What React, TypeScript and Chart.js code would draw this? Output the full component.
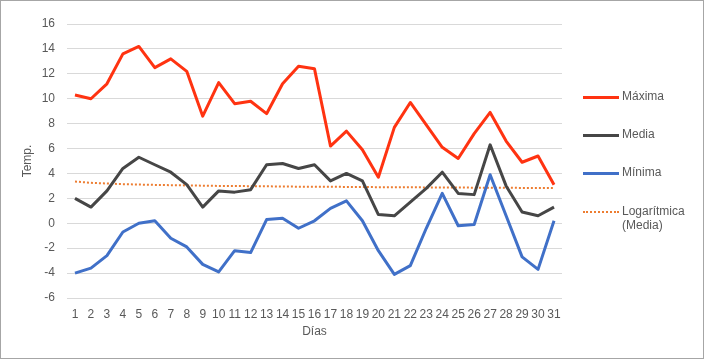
import React, { useEffect, useRef } from "react";
import { Chart, registerables } from "chart.js";

Chart.register(...registerables);

const days = Array.from({ length: 31 }, (_, i) => String(i + 1));
const maxima = [10.3, 10.0, 11.2, 13.6, 14.2, 12.5, 13.2, 12.2, 8.6, 11.3, 9.6, 9.8, 8.8, 11.2, 12.6, 12.4, 6.2, 7.4, 5.9, 3.7, 7.7, 9.7, 7.9, 6.1, 5.2, 7.2, 8.9, 6.6, 4.9, 5.4, 3.1];
const media = [2.0, 1.3, 2.6, 4.4, 5.3, 4.7, 4.1, 3.1, 1.3, 2.6, 2.5, 2.7, 4.7, 4.8, 4.4, 4.7, 3.4, 4.0, 3.4, 0.7, 0.6, 1.7, 2.8, 4.1, 2.4, 2.3, 6.3, 3.0, 0.9, 0.6, 1.3];
const minima = [-4.0, -3.6, -2.6, -0.7, 0.0, 0.2, -1.2, -1.9, -3.3, -3.9, -2.2, -2.35, 0.3, 0.4, -0.4, 0.2, 1.2, 1.8, 0.2, -2.2, -4.1, -3.4, -0.4, 2.4, -0.2, -0.1, 3.9, 0.6, -2.7, -3.7, 0.2];
const tendencia = [3.35, 3.25, 3.19, 3.14, 3.11, 3.08, 3.06, 3.04, 3.02, 3.0, 2.99, 2.98, 2.97, 2.95, 2.94, 2.93, 2.93, 2.92, 2.91, 2.9, 2.89, 2.89, 2.88, 2.87, 2.87, 2.86, 2.86, 2.85, 2.84, 2.84, 2.83];

const C_MAX = "#ff3311";
const C_MED = "#464646";
const C_MIN = "#4070c8";
const C_TREND = "#ed7d31";
const FONT = "'Liberation Sans', Arial, sans-serif";
const TXT = "#595959";

export default function App() {
  const ref = useRef<HTMLCanvasElement | null>(null);
  useEffect(() => {
    if (!ref.current) return;
    const chart = new Chart(ref.current, {
      type: "line",
      data: {
        labels: days,
        datasets: [
          { label: "Máxima", data: maxima, borderColor: C_MAX, borderWidth: 3, pointRadius: 0, tension: 0, borderJoinStyle: "round" },
          { label: "Media", data: media, borderColor: C_MED, borderWidth: 3, pointRadius: 0, tension: 0, borderJoinStyle: "round" },
          { label: "Mínima", data: minima, borderColor: C_MIN, borderWidth: 3, pointRadius: 0, tension: 0, borderJoinStyle: "round" },
          { label: "Logarítmica (Media)", data: tendencia, borderColor: C_TREND, borderWidth: 2, borderDash: [2, 2], pointRadius: 0, tension: 0 },
        ],
      },
      options: {
        responsive: false,
        animation: false,
        layout: { padding: { top: 24, right: 142, bottom: 0, left: 0 } },
        plugins: { legend: { display: false }, tooltip: { enabled: false } },
        scales: {
          x: {
            type: "category",
            offset: true,
            grid: { display: false, drawTicks: false },
            border: { display: false },
            ticks: { color: TXT, font: { family: FONT, size: 12 }, padding: 9, maxRotation: 0, autoSkip: false },
            title: { display: true, text: "Días", color: TXT, font: { family: FONT, size: 12 }, padding: { top: 0, bottom: 20 } },
            afterFit: (s: any) => { s.height = 61; },
          },
          y: {
            min: -6,
            max: 16,
            ticks: { stepSize: 2, color: TXT, font: { family: FONT, size: 12 }, padding: 12 },
            grid: { color: "#d9d9d9", lineWidth: 1, drawTicks: false },
            border: { display: false },
            title: { display: true, text: "Temp.", color: TXT, font: { family: FONT, size: 12 }, padding: { top: 20, bottom: 0 } },
            afterFit: (s: any) => { s.width = 67; },
          },
        },
      },
    });
    return () => chart.destroy();
  }, []);

  const legendItems = [
    { label: ["Máxima"], color: C_MAX, y: 97, dotted: false },
    { label: ["Media"], color: C_MED, y: 135, dotted: false },
    { label: ["Mínima"], color: C_MIN, y: 173, dotted: false },
    { label: ["Logarítmica", "(Media)"], color: C_TREND, y: 212, dotted: true },
  ];

  return (
    <div style={{ position: "fixed", left: 0, top: 0, width: 704, height: 359, background: "#fff" }}>
      <canvas ref={ref} width={704} height={359} style={{ position: "absolute", left: 0, top: 0 }} />
      <div style={{ position: "absolute", left: 0, top: 0, width: 704, height: 359, boxSizing: "border-box", border: "1px solid #a6a6a6", pointerEvents: "none" }} />
      {legendItems.map((it, i) => (
        <div key={i}>
          <div
            style={{
              position: "absolute",
              left: 583,
              top: it.y - (it.dotted ? 1 : 1.5),
              width: 36,
              height: 0,
              borderTop: it.dotted ? `2px dotted ${it.color}` : `3px solid ${it.color}`,
            }}
          />
          <div
            style={{
              position: "absolute",
              left: 622,
              top: it.y - 8,
              fontFamily: FONT,
              fontSize: 12,
              lineHeight: "14px",
              color: TXT,
              whiteSpace: "nowrap",
            }}
          >
            {it.label.map((l, j) => (
              <div key={j}>{l}</div>
            ))}
          </div>
        </div>
      ))}
    </div>
  );
}
